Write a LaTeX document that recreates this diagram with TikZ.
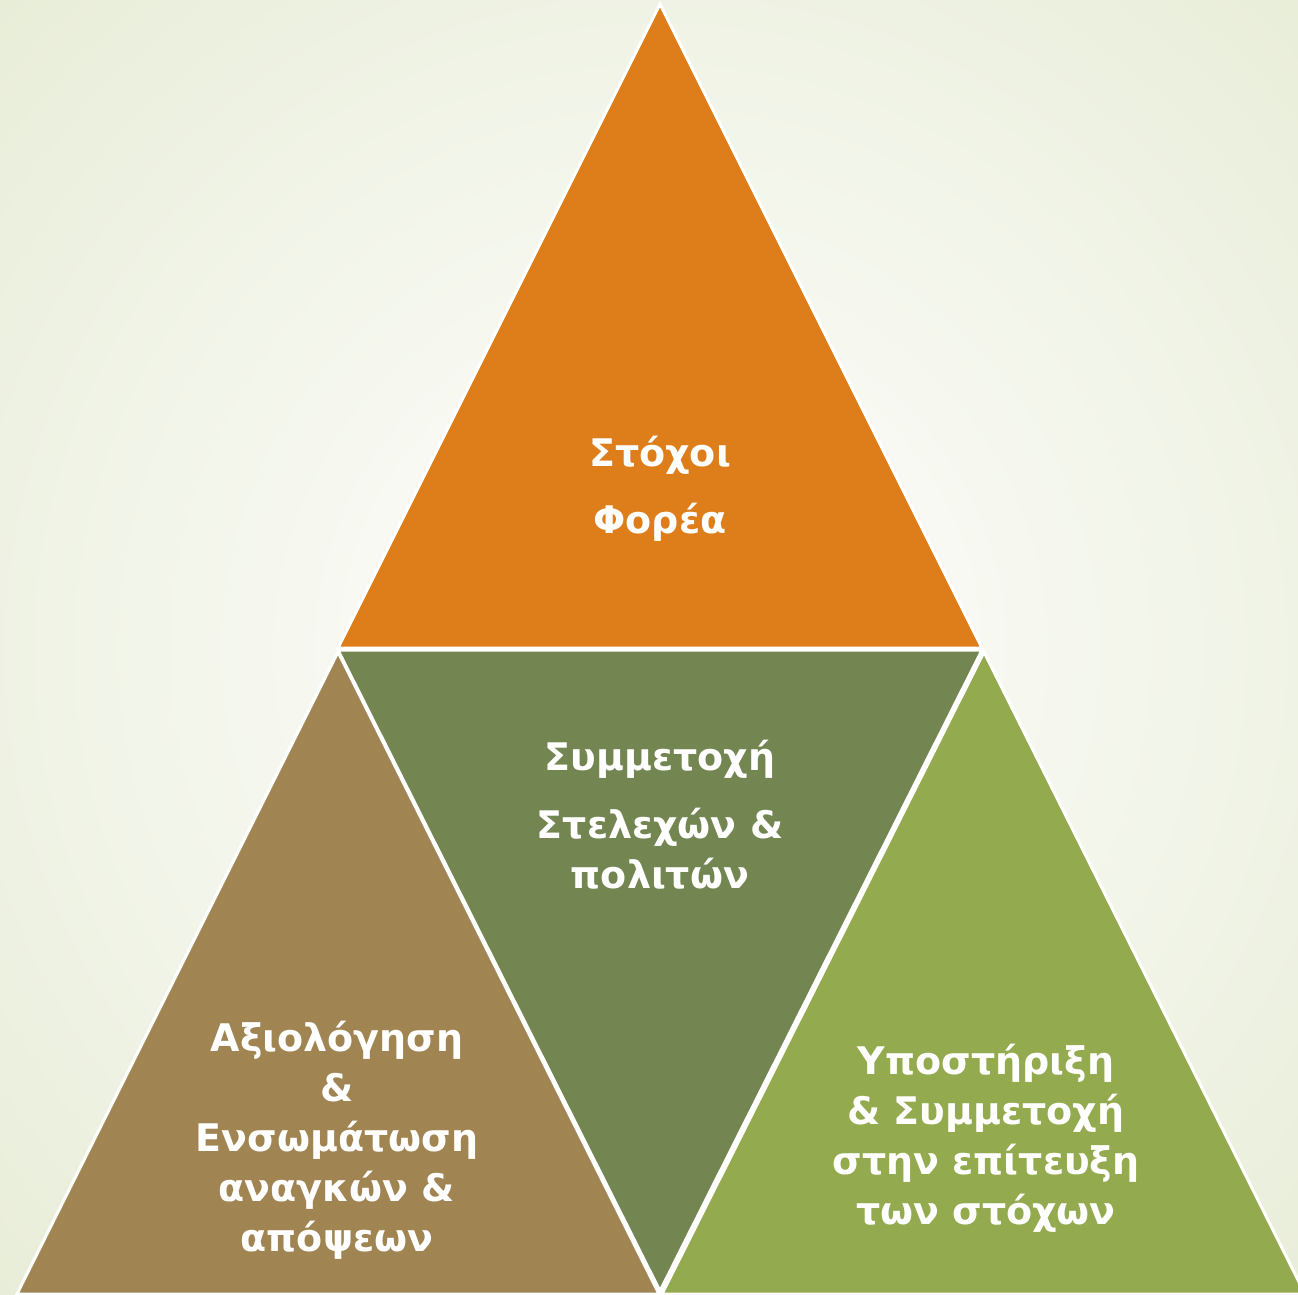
\documentclass[tikz,border=0pt]{standalone}
\usepackage{fontspec}
\setmainfont{DejaVu Sans}
\definecolor{bgedge}{HTML}{E8EDD8}
\definecolor{torange}{HTML}{DD7E1A}
\definecolor{tgreen}{HTML}{738551}
\definecolor{tbrown}{HTML}{A08552}
\definecolor{tlight}{HTML}{94AA4E}
\begin{document}
\begin{tikzpicture}[x=1pt,y=-1pt,
  tri/.style={draw=white,line width=3pt,line join=miter},
  lbl/.style={text=white,font=\bfseries\fontsize{38}{50}\selectfont,align=center,inner sep=0pt}]
\useasboundingbox (0,0) rectangle (1298,1294);
\begin{scope}
\clip (0,0) rectangle (1298,1294);
\shade[inner color=white,outer color=bgedge] (660,650) circle (930);
% triangles
\filldraw[tri,fill=torange] (660,4) -- (982,648) -- (338,648) -- cycle;
\filldraw[tri,fill=tgreen] (338,650) -- (982,650) -- (660,1291) -- cycle;
\filldraw[tri,fill=tbrown] (338,652) -- (659,1294) -- (17,1294) -- cycle;
\filldraw[tri,fill=tlight] (984,652) -- (1305,1294) -- (662,1294) -- cycle;
\end{scope}
\node[lbl] (top) at (660,489) {Στόχοι\\[17pt]Φορέα};
\node[lbl] (mid) at (660,815) {Συμμετοχή\\[18pt]Στελεχών \&\\πολιτών};
\node[lbl] (left) at (337,1140) {Αξιολόγηση\\\&\\Ενσωμάτωση\\αναγκών \&\\απόψεων};
\node[lbl] (right) at (986,1138) {Υποστήριξη\\\& Συμμετοχή\\στην επίτευξη\\των στόχων};
\end{tikzpicture}
\end{document}
